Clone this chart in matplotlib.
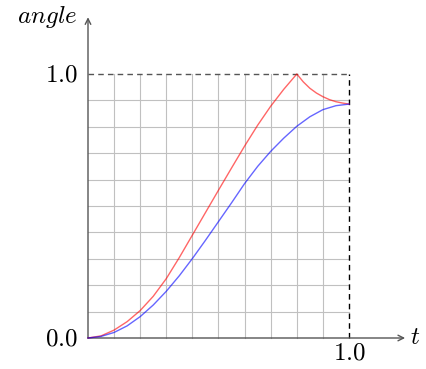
import numpy as np
import matplotlib
matplotlib.use('Agg')
import matplotlib.pyplot as plt

# values
t_blue = [0, 0.05, 0.1, 0.15, 0.2, 0.25, 0.3, 0.35, 0.4, 0.45, 0.5,
          0.55, 0.6, 0.65, 0.7, 0.75, 0.8, 0.85, 0.9, 0.95, 1.0]
angle_blue = [0, 0.006, 0.021, 0.046, 0.081, 0.125, 0.177, 0.236, 0.301, 0.37, 0.441,
              0.512, 0.585, 0.65, 0.707, 0.757, 0.802, 0.838, 0.865, 0.88, 0.886]

t_red = [0, 0.05, 0.1, 0.15, 0.2, 0.25, 0.3, 0.35, 0.4, 0.45, 0.5,
         0.55, 0.6, 0.65, 0.7, 0.75, 0.8, 0.825, 0.85, 0.875, 0.9, 0.925, 0.95, 0.975, 1.0]
angle_red = [0, 0.008, 0.03, 0.062, 0.104, 0.158, 0.225, 0.305, 0.39, 0.475, 0.56,
             0.644, 0.727, 0.806, 0.878, 0.942, 1.0, 0.97, 0.946, 0.928, 0.914,
             0.903, 0.895, 0.89, 0.886]

grid_ticks = [0.1, 0.2, 0.3, 0.4, 0.5, 0.6, 0.7, 0.8, 0.9]
x_label, y_label = 't', 'angle'
tick_labels = ['0.0', '1.0']

plt.rcParams['mathtext.fontset'] = 'cm'


def main():
    fig = plt.figure(figsize=(4.27, 3.69), dpi=100)
    ax = fig.add_axes([0, 0, 1, 1])
    ax.set_xlim(-88 / 261, 339 / 261)
    ax.set_ylim(-31 / 264, 338 / 264)
    ax.axis('off')

    for g in grid_ticks:
        ax.plot([g, g], [0, 1], color='#c0c0c0', lw=0.8, zorder=1)
        ax.plot([0, 1], [g, g], color='#c0c0c0', lw=0.8, zorder=1)
    ax.plot([1, 1], [0, 1], color='black', lw=1.0, ls=(0, (4, 3)), zorder=2)
    ax.plot([0, 1], [1, 1], color='#555555', lw=1.0, ls=(0, (4, 3)), zorder=2)

    arrow = dict(arrowstyle='->', color='#555555', lw=1.0, shrinkA=0, shrinkB=0)
    ax.annotate('', xy=(1.215, 0), xytext=(0, 0), arrowprops=arrow)
    ax.annotate('', xy=(0, 1.215), xytext=(0, 0), arrowprops=arrow)

    ax.plot(t_red, angle_red, color='red', alpha=0.6, lw=1.0, zorder=3)
    ax.plot(t_blue, angle_blue, color='blue', alpha=0.6, lw=1.0, zorder=3)

    fs = 18
    ax.text(-0.04, 1.215, '$' + y_label + '$', fontsize=fs, ha='right', va='center')
    ax.text(1.235, 0.005, '$' + x_label + '$', fontsize=fs, ha='left', va='center')
    ax.text(-0.04, 0, '$' + tick_labels[0] + '$', fontsize=fs, ha='right', va='center')
    ax.text(-0.04, 1, '$' + tick_labels[1] + '$', fontsize=fs, ha='right', va='center')
    ax.text(1, -0.055, '$' + tick_labels[1] + '$', fontsize=fs, ha='center', va='center')

    fig.savefig('out.png', dpi=100)


if __name__ == "__main__":
    main()
